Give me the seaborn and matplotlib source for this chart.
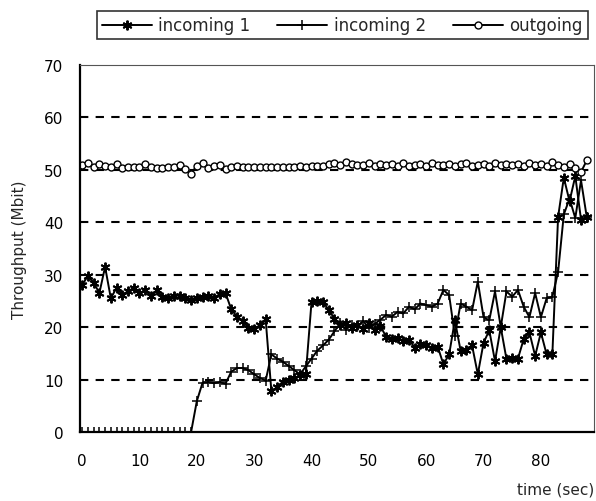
import numpy as np
import pandas as pd
import matplotlib
matplotlib.use("Agg")
import matplotlib.pyplot as plt
import seaborn as sns

time_sec = list(range(89))

incoming_1 = [
    28.0, 29.8, 28.5, 26.5, 31.5, 25.5, 27.5, 26.2, 26.8, 27.5,
    26.5, 27.0, 26.0, 27.0, 25.8, 25.5, 26.0, 26.0, 25.5, 25.2,
    25.5, 25.8, 26.0, 25.6, 26.3, 26.5, 23.4, 22.0, 21.2, 19.9,
    19.6, 20.4, 21.5, 7.8, 8.5, 9.6, 10.0, 10.3, 10.8, 11.0,
    24.8, 25.0, 24.8, 23.3, 21.6, 20.5, 20.8, 19.8, 20.5, 19.6,
    20.8, 19.4, 20.2, 18.2, 17.8, 18.0, 17.4, 17.6, 16.1, 16.8,
    16.6, 16.1, 16.3, 12.9, 14.8, 21.3, 15.5, 15.6, 16.5, 11.0,
    17.0, 19.4, 13.5, 20.0, 13.9, 14.2, 14.0, 17.7, 19.0, 14.5,
    19.0, 14.8, 14.8, 41.0, 48.5, 44.0, 48.8, 40.5, 41.0,
]

incoming_2 = [
    0, 0, 0, 0, 0, 0, 0, 0, 0, 0,
    0, 0, 0, 0, 0, 0, 0, 0, 0, 0,
    5.9, 9.4, 9.5, 9.3, 9.5, 9.2, 11.5, 12.2, 12.2, 11.8,
    11.0, 10.3, 9.8, 14.8, 14.0, 13.4, 12.6, 11.8, 11.0, 12.5,
    14.0, 15.5, 16.5, 17.6, 19.2, 20.8, 19.5, 20.5, 20.0, 21.2,
    19.8, 20.6, 21.4, 22.3, 22.0, 22.9, 22.6, 23.9, 23.4, 24.5,
    24.2, 23.9, 24.5, 27.1, 26.1, 18.4, 24.5, 23.9, 23.2, 28.7,
    21.9, 21.3, 26.8, 20.0, 26.8, 25.8, 27.1, 23.9, 21.9, 26.5,
    21.9, 25.5, 25.8, 30.5, 41.5, 44.5, 40.8, 48.0, 41.0,
]

outgoing = [
    51.0, 51.3, 50.6, 51.2, 50.8, 50.5, 51.2, 50.4, 50.5, 50.6,
    50.6, 51.2, 50.5, 50.3, 50.3, 50.6, 50.6, 51.0, 50.2, 49.3,
    50.8, 51.4, 50.4, 50.8, 50.9, 50.2, 50.6, 50.7, 50.6, 50.5,
    50.6, 50.6, 50.5, 50.6, 50.6, 50.6, 50.5, 50.6, 50.7, 50.6,
    50.8, 50.7, 50.8, 51.2, 51.4, 51.0, 51.5, 51.2, 50.9, 51.0,
    51.3, 50.8, 51.1, 50.9, 51.2, 50.8, 51.3, 50.7, 51.0, 51.2,
    50.8, 51.3, 50.9, 51.0, 51.2, 50.7, 51.1, 51.3, 50.8, 51.0,
    51.2, 50.8, 51.3, 50.9, 51.1, 51.0, 51.2, 50.8, 51.3, 51.0,
    51.2, 50.8, 51.5, 51.0, 50.6, 51.2, 50.3, 49.6, 51.8,
]

series_names = ["incoming 1", "incoming 2", "outgoing"]

df = pd.DataFrame({
    "time": time_sec,
    "incoming 1": incoming_1,
    "incoming 2": incoming_2,
    "outgoing": outgoing,
})

sns.set_style("white")
plt.rcParams["font.family"] = ["DejaVu Sans"]

fig = plt.figure(figsize=(5.96, 5.02), dpi=100)
ax = fig.add_axes([0.134, 0.1375, 0.863, 0.731])

# style des séries
styles = {
    "incoming 1": dict(marker=(6, 2, 0), markersize=7, markeredgewidth=1.4,
                       markerfacecolor="black", markeredgecolor="black"),
    "incoming 2": dict(marker="+", markersize=7, markeredgewidth=1.1,
                       markeredgecolor="black"),
    "outgoing": dict(marker="o", markersize=5, markeredgewidth=1.0,
                     markerfacecolor="white", markeredgecolor="black"),
}

for name in series_names:
    sns.lineplot(data=df, x="time", y=name, ax=ax, color="black",
                 linewidth=1.4, label=name, **styles[name])

ax.set_xlim(-0.4, 89.3)
ax.set_ylim(0, 70)
ax.set_xticks(range(0, 90, 10))
ax.set_yticks(range(0, 80, 10))
ax.tick_params(axis="both", length=0, labelsize=11, colors="black")
ax.tick_params(axis="y", pad=12)
ax.tick_params(axis="x", pad=15)

# grille horizontale en tirets
for yv in range(10, 70, 10):
    ax.axhline(yv, color="black", linewidth=1.5, linestyle=(0, (4, 3.5)), zorder=0)

for side in ["left", "bottom"]:
    ax.spines[side].set_color("black")
    ax.spines[side].set_linewidth(1.6)
for side in ["top", "right"]:
    ax.spines[side].set_color("#555555")
    ax.spines[side].set_linewidth(0.8)
    ax.spines[side].set_linestyle((0, (1, 1)))

ax.set_ylabel("Throughput (Mbit)", fontsize=11, labelpad=12)
ax.set_xlabel("time (sec)", fontsize=11, loc="right", labelpad=10)

ax.get_legend().remove()
handles, labels = ax.get_legend_handles_labels()
leg = fig.legend(handles, labels, loc="upper right", bbox_to_anchor=(1.0, 0.992),
                 ncol=3, frameon=True, fancybox=False, edgecolor="black",
                 fontsize=12, handlelength=3.0, handletextpad=0.4,
                 columnspacing=1.6, borderpad=0.3)
leg.get_frame().set_linewidth(1.2)

fig.savefig("out.png", dpi=100)
